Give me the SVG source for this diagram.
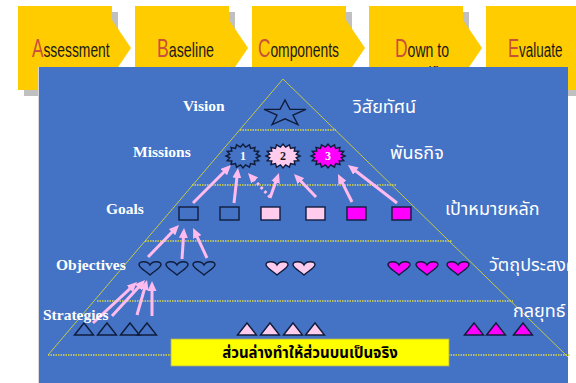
<svg xmlns="http://www.w3.org/2000/svg" xmlns:xlink="http://www.w3.org/1999/xlink" width="576" height="383" viewBox="0 0 576 383">
<style>
.shadow{fill:#c0c0c0}
.ybox{fill:#ffcc00}
.step{font-family:"Liberation Sans",Arial,sans-serif;font-size:21px;fill:#1a1a1a}
.cap{font-size:26px;fill:#c9503a}
.lbl{font-family:"Liberation Serif","Times New Roman",serif;font-weight:bold;font-size:15.5px;fill:#ffffff}
.th{font-family:"Noto Sans Thai",Tahoma,"DejaVu Sans",sans-serif;font-size:18px;fill:#ffffff}
.side{stroke:#c3c84a;stroke-width:1;fill:none}
.div{stroke:#d6d64c;stroke-width:1.3;stroke-dasharray:1.5 1;fill:none}
.ol{stroke:#101c3c;stroke-width:1.4}
.none{fill:none}
.pink{fill:#ffccee}
.mag{fill:#ff00ff}
.arr{stroke:#ffbbee;stroke-width:3;fill:none;marker-end:url(#ah)}
.num{font-family:"Liberation Serif","Times New Roman",serif;font-weight:bold;font-size:12px;text-anchor:middle}
</style>
<defs>
<marker id="ah" markerUnits="userSpaceOnUse" markerWidth="10" markerHeight="9" refX="3" refY="4.5" orient="auto">
<path d="M0,0 L10,4.5 L0,9 Z" fill="#ffbbee"/>
</marker>
<polygon id="burst" points="17,0 13.2,1.8 15.7,4.6 11.2,5 12,8.5 7.5,7.5 6.5,11.1 2.6,8.8 0,12 -2.6,8.8 -6.5,11.1 -7.5,7.5 -12,8.5 -11.2,5 -15.7,4.6 -13.2,1.8 -17,0 -13.2,-1.8 -15.7,-4.6 -11.2,-5 -12,-8.5 -7.5,-7.5 -6.5,-11.1 -2.6,-8.8 0,-12 2.6,-8.8 6.5,-11.1 7.5,-7.5 12,-8.5 11.2,-5 15.7,-4.6 13.2,-1.8"/>
<path id="heart" d="M0,3 C-2,-1 -11,-1.5 -11,2.5 C-11,6 -4,9 0,13 C4,9 11,6 11,2.5 C11,-1.5 2,-1 0,3 Z"/>
<polygon id="tri" points="-9.5,12 0,0 9.5,12"/>
<rect id="sq" x="0" y="0" width="19" height="13"/>
</defs>

<rect width="576" height="383" fill="#ffffff"/>

<g id="step-assessment">
<rect class="shadow" x="24" y="12" width="94" height="84"/>
<rect class="ybox" x="18" y="6" width="94" height="84"/>
<polygon class="ybox" points="112,20 131,48 112,76"/>
<text class="step" transform="translate(32,57) scale(0.66,1)"><tspan class="cap">A</tspan>ssessment</text>
</g>
<g id="step-baseline">
<rect class="shadow" x="141" y="12" width="94" height="84"/>
<rect class="ybox" x="135" y="6" width="94" height="84"/>
<polygon class="ybox" points="229,20 248,48 229,76"/>
<text class="step" transform="translate(157,57) scale(0.68,1)"><tspan class="cap">B</tspan>aseline</text>
</g>
<g id="step-components">
<rect class="shadow" x="258" y="12" width="94" height="84"/>
<rect class="ybox" x="252" y="6" width="94" height="84"/>
<polygon class="ybox" points="346,20 365,48 346,76"/>
<text class="step" transform="translate(258,57) scale(0.66,1)"><tspan class="cap">C</tspan>omponents</text>
</g>
<g id="step-down">
<rect class="shadow" x="375" y="12" width="94" height="84"/>
<rect class="ybox" x="369" y="6" width="94" height="84"/>
<polygon class="ybox" points="463,20 482,48 463,76"/>
<text class="step" transform="translate(395,57) scale(0.67,1)"><tspan class="cap">D</tspan>own to</text>
<text class="step" transform="translate(397,81) scale(0.66,1)">Specific</text>
</g>
<g id="step-evaluate">
<rect class="shadow" x="492" y="12" width="94" height="84"/>
<rect class="ybox" x="486" y="6" width="94" height="84"/>
<text class="step" transform="translate(508,57) scale(0.64,1)"><tspan class="cap">E</tspan>valuate</text>
</g>

<g id="panel">
<rect x="39" y="67" width="529" height="320" fill="#4472c4"/>
<line x1="38.5" y1="67" x2="38.5" y2="383" stroke="#d8d8d8" stroke-width="1"/>
<polyline class="side" points="48,355 283,79 568,357"/>
<line class="div" x1="240" y1="130" x2="336" y2="130"/>
<line class="div" x1="192" y1="185" x2="397" y2="185"/>
<line class="div" x1="145" y1="241" x2="452" y2="241"/>
<line class="div" x1="97" y1="301" x2="513" y2="301"/>
<line class="div" x1="48" y1="355" x2="570" y2="355"/>
</g>

<g id="vision">
<polygon class="none ol" points="285,100 289.9,109.4 305.9,109.4 293,115.2 297.9,124.6 285,118.8 272.1,124.6 277,115.2 264.1,109.4 280.1,109.4"/>
</g>

<g id="missions">
<use xlink:href="#burst" class="none ol" x="243" y="156"/>
<use xlink:href="#burst" class="pink ol" x="283" y="156"/>
<use xlink:href="#burst" class="mag ol" x="328" y="156"/>
<text class="num" x="243" y="160" fill="#ffffff">1</text>
<text class="num" x="283" y="160" fill="#1a1a1a">2</text>
<text class="num" x="328" y="160" fill="#ffffff">3</text>
</g>

<g id="goals">
<use xlink:href="#sq" class="none ol" x="179" y="207"/>
<use xlink:href="#sq" class="none ol" x="220" y="207"/>
<use xlink:href="#sq" class="pink ol" x="261" y="207"/>
<use xlink:href="#sq" class="pink ol" x="306" y="207"/>
<use xlink:href="#sq" class="mag ol" x="347" y="207"/>
<use xlink:href="#sq" class="mag ol" x="392" y="207"/>
</g>

<g id="objectives">
<use xlink:href="#heart" class="none ol" x="150" y="262"/>
<use xlink:href="#heart" class="none ol" x="177" y="262"/>
<use xlink:href="#heart" class="none ol" x="204" y="262"/>
<use xlink:href="#heart" class="pink ol" x="277" y="262"/>
<use xlink:href="#heart" class="pink ol" x="304" y="262"/>
<use xlink:href="#heart" class="mag ol" x="399" y="262"/>
<use xlink:href="#heart" class="mag ol" x="427" y="262"/>
<use xlink:href="#heart" class="mag ol" x="458" y="262"/>
</g>

<g id="strategies">
<use xlink:href="#tri" class="none ol" x="84" y="323"/>
<use xlink:href="#tri" class="none ol" x="107" y="323"/>
<use xlink:href="#tri" class="none ol" x="130" y="323"/>
<use xlink:href="#tri" class="none ol" x="147" y="323"/>
<use xlink:href="#tri" class="pink ol" x="247" y="323"/>
<use xlink:href="#tri" class="pink ol" x="270" y="323"/>
<use xlink:href="#tri" class="pink ol" x="293" y="323"/>
<use xlink:href="#tri" class="pink ol" x="315" y="323"/>
<use xlink:href="#tri" class="mag ol" x="474" y="323"/>
<use xlink:href="#tri" class="mag ol" x="496" y="323"/>
<use xlink:href="#tri" class="mag ol" x="523" y="323"/>
</g>

<g id="connectors">
<line class="arr" x1="193" y1="203" x2="226" y2="170"/>
<line class="arr" x1="234" y1="203" x2="237.2" y2="175"/>
<line class="arr" x1="270" y1="197" x2="252.7" y2="178.2" stroke-dasharray="2.5 3"/>
<line class="arr" x1="270" y1="198" x2="276.6" y2="179.6"/>
<line class="arr" x1="316" y1="197" x2="298.8" y2="179"/>
<line class="arr" x1="352" y1="202" x2="341.1" y2="180.3"/>
<line class="arr" x1="397" y1="203" x2="353.5" y2="169.3"/>
<line class="arr" x1="148" y1="257" x2="174.1" y2="230"/>
<line class="arr" x1="182" y1="259" x2="183.6" y2="235"/>
<line class="arr" x1="207" y1="258" x2="196" y2="234.3"/>
<line class="arr" x1="93" y1="323" x2="131.9" y2="286.8"/>
<line class="arr" x1="112" y1="316" x2="140.3" y2="285.2"/>
<line class="arr" x1="137" y1="315" x2="145.1" y2="286.7"/>
<line class="arr" x1="152" y1="316" x2="152" y2="288"/>
</g>

<g id="labels">
<text class="lbl" x="183" y="111">Vision</text>
<text class="lbl" x="133" y="157">Missions</text>
<text class="lbl" x="106" y="214">Goals</text>
<text class="lbl" x="56" y="270">Objectives</text>
<text class="lbl" x="43" y="320">Strategies</text>
<text class="th" x="353" y="113">วิสัยทัศน์</text>
<text class="th" x="390" y="159">พันธกิจ</text>
<text class="th" x="445" y="215">เป้าหมายหลัก</text>
<text class="th" x="489" y="271">วัตถุประสงค์</text>
<text class="th" x="513" y="317">กลยุทธ์</text>
</g>

<g id="note">
<rect x="171" y="339" width="278" height="27" fill="#ffff00" stroke="#b0b060" stroke-width="0.8"/>
<text x="310" y="358" text-anchor="middle" font-family="'Noto Sans Thai',Tahoma,'DejaVu Sans',sans-serif" font-weight="bold" font-size="15" fill="#000000">ส่วนล่างทำให้ส่วนบนเป็นจริง</text>
</g>
</svg>
